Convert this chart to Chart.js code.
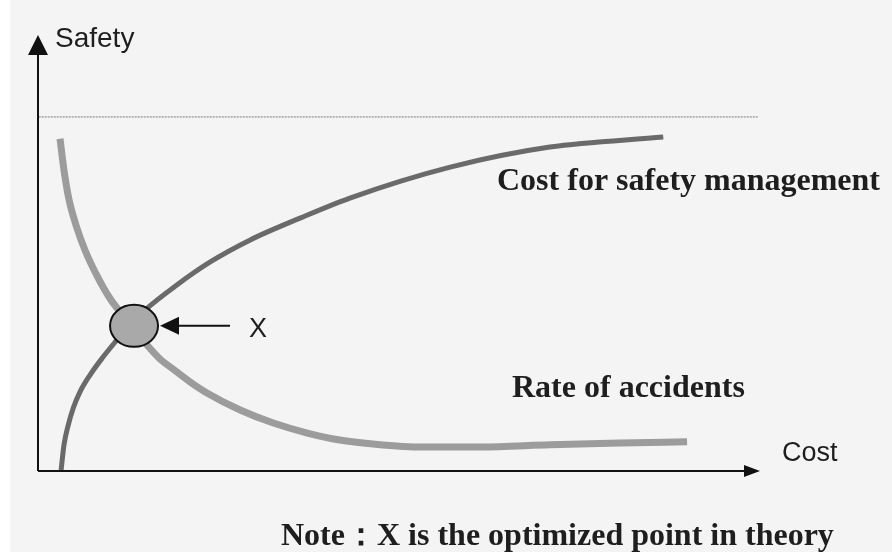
<!DOCTYPE html>
<html>
<head>
<meta charset="utf-8">
<script src="https://cdn.jsdelivr.net/npm/chart.js@4.4.1/dist/chart.umd.min.js"></script>
<style>
    body { margin: 0; background: #ffffff; }
</style>
</head>
<body>
<canvas id="tradeoffChart" width="892" height="552"></canvas>
<script>
// values in abstract units: cost 0-100 on x, safety 0-100 on y
const costForSafetyX = [3.2, 3.6, 4.2, 4.9, 5.8, 7.2, 8.9, 10.7, 12.7, 14.8, 19.0, 23.8, 29.4, 36.3, 43.2, 57.1, 70.9, 86.6];
const costForSafetyY = [0.2, 6.0, 10.6, 14.5, 18.1, 22.0, 25.9, 29.6, 33.5, 36.9, 42.4, 47.9, 53.0, 58.0, 62.6, 69.7, 74.3, 76.6];

const accidentsX = [3.05, 3.6, 4.3, 5.3, 6.5, 8.2, 10.0, 11.6, 13.3, 15.1, 16.9, 18.7, 21.1, 23.4, 28.0, 32.6, 37.3, 41.8, 46.4, 53.3, 61.2, 70.9, 80.6, 89.9];
const accidentsY = [76.2, 69.0, 62.2, 56.2, 50.7, 44.7, 39.5, 36.0, 32.6, 28.9, 25.7, 23.4, 20.4, 17.9, 14.0, 11.0, 8.7, 7.1, 6.2, 5.5, 5.5, 6.0, 6.4, 6.7];

const ceilingX = [0.1, 99.7];
const ceilingY = [81.2, 81.2];

const optimumX = [13.3];
const optimumY = [33.3];

const axisLabels = ["Safety", "Cost"];
const curveLabels = ["Cost for safety management", "Rate of accidents"];
const pointLabel = "X";
const noteText = "Note\uFF1AX is the optimized point in theory";

function toPoints(xs, ys) {
    return xs.map((x, i) => ({ x: x, y: ys[i] }));
}

const drawingPlugin = {
    id: "drawing",
    beforeDraw(chart) {
        const ctx = chart.ctx;
        ctx.save();
        ctx.fillStyle = "#ffffff";
        ctx.fillRect(0, 0, chart.width, chart.height);
        ctx.fillStyle = "#f4f4f4";
        ctx.fillRect(10, 0, chart.width - 10, chart.height);
        ctx.restore();
    },
    afterDatasetsDraw(chart) {
        const ctx = chart.ctx;
        const xs = chart.scales.x;
        const ys = chart.scales.y;
        const x0 = xs.getPixelForValue(0);
        const y0 = ys.getPixelForValue(0);
        const xEnd = xs.getPixelForValue(100);
        const yEnd = ys.getPixelForValue(100);

        ctx.save();
        ctx.strokeStyle = "#111111";
        ctx.fillStyle = "#111111";
        ctx.lineWidth = 2;

        // axes with arrow heads
        ctx.beginPath();
        ctx.moveTo(x0, y0);
        ctx.lineTo(x0, yEnd + 18);
        ctx.moveTo(x0, y0);
        ctx.lineTo(xEnd - 14, y0);
        ctx.stroke();

        ctx.beginPath();
        ctx.moveTo(x0, yEnd);
        ctx.lineTo(x0 - 10, yEnd + 20);
        ctx.lineTo(x0 + 10, yEnd + 20);
        ctx.closePath();
        ctx.fill();

        ctx.beginPath();
        ctx.moveTo(xEnd, y0);
        ctx.lineTo(xEnd - 16, y0 - 6);
        ctx.lineTo(xEnd - 16, y0 + 6);
        ctx.closePath();
        ctx.fill();

        // optimum marker
        const pt = chart.getDatasetMeta(3).data[0];
        ctx.beginPath();
        ctx.ellipse(pt.x, pt.y, 24, 21, 0, 0, Math.PI * 2);
        ctx.fillStyle = "#a9a9a9";
        ctx.fill();
        ctx.stroke();

        ctx.fillStyle = "#111111";
        ctx.beginPath();
        ctx.moveTo(pt.x + 96, pt.y);
        ctx.lineTo(pt.x + 42, pt.y);
        ctx.stroke();
        ctx.beginPath();
        ctx.moveTo(pt.x + 26, pt.y);
        ctx.lineTo(pt.x + 45, pt.y - 9);
        ctx.lineTo(pt.x + 45, pt.y + 9);
        ctx.closePath();
        ctx.fill();

        // texts
        ctx.fillStyle = "#1e1e1e";
        ctx.textBaseline = "alphabetic";
        ctx.textAlign = "left";
        ctx.font = "28px 'Liberation Sans', Arial, sans-serif";
        ctx.fillText(axisLabels[0], x0 + 17, 47);
        ctx.font = "27px 'Liberation Sans', Arial, sans-serif";
        ctx.fillText(axisLabels[1], xEnd + 22, y0 - 10);
        ctx.textAlign = "center";
        ctx.fillText(pointLabel, pt.x + 124, pt.y + 11);

        ctx.textAlign = "left";
        ctx.font = "bold 32px 'Liberation Serif', 'Times New Roman', serif";
        ctx.fillText(curveLabels[0], 497, 190);
        ctx.fillText(curveLabels[1], 512, 397);
        ctx.fillText(noteText, 281, 545);
        ctx.restore();
    }
};

const config = {
    type: "scatter",
    data: {
        datasets: [{
            label: curveLabels[0],
            data: toPoints(costForSafetyX, costForSafetyY),
            showLine: true,
            borderColor: "#6a6a6a",
            borderWidth: 5,
            borderCapStyle: "butt",
            cubicInterpolationMode: "monotone",
            pointRadius: 0,
            clip: false
        }, {
            label: curveLabels[1],
            data: toPoints(accidentsX, accidentsY),
            showLine: true,
            borderColor: "#9c9c9c",
            borderWidth: 7,
            borderCapStyle: "butt",
            cubicInterpolationMode: "monotone",
            pointRadius: 0,
            clip: false
        }, {
            label: "ceiling",
            data: toPoints(ceilingX, ceilingY),
            showLine: true,
            borderColor: "#777777",
            borderWidth: 1,
            borderDash: [2, 1],
            pointRadius: 0,
            clip: false
        }, {
            label: "optimum",
            data: toPoints(optimumX, optimumY),
            pointRadius: 0,
            clip: false
        }]
    },
    options: {
        responsive: false,
        animation: false,
        events: [],
        layout: {
            padding: { left: 38, right: 132, top: 35, bottom: 81 }
        },
        plugins: {
            legend: { display: false },
            tooltip: { enabled: false }
        },
        scales: {
            x: { type: "linear", min: 0, max: 100, display: false },
            y: { type: "linear", min: 0, max: 100, display: false }
        }
    },
    plugins: [drawingPlugin]
};

new Chart(document.getElementById("tradeoffChart"), config);
</script>
</body>
</html>
